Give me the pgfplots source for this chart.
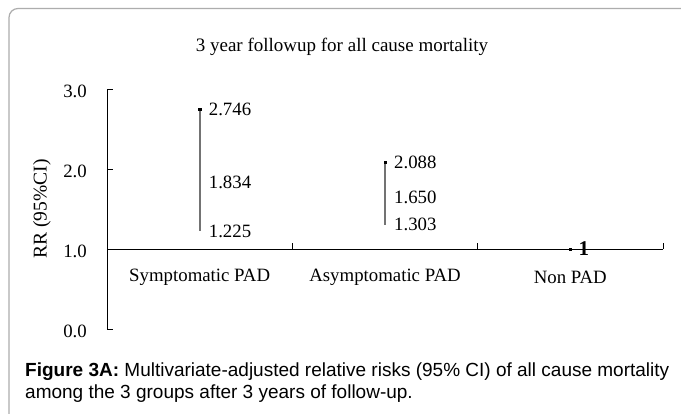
\documentclass[border=0pt]{standalone}
\usepackage{fontspec}
\setmainfont{Liberation Serif}
\newfontfamily\capfont{Liberation Sans}
\usepackage{pgfplots}
\pgfplotsset{compat=1.18}
\begin{document}
\begin{tikzpicture}[x=1pt,y=1pt]
\useasboundingbox (0,0) rectangle (681,414);
\clip (0,0) rectangle (681,414);
\fill[white] (0,0) rectangle (681,414);
\draw[black!32, line width=1.2pt, rounded corners=9pt] (9,405.5) rectangle (730,-40);
\begin{axis}[
  at={(107pt,85pt)}, anchor=south west,
  scale only axis, width=556pt, height=240pt,
  xmin=0, xmax=3, ymin=0, ymax=3,
  axis y line*=left, axis x line=none,
  ytick={0,1,2,3},
  yticklabel style={/pgf/number format/fixed, /pgf/number format/fixed zerofill, /pgf/number format/precision=1, anchor=east, inner sep=0pt, xshift=-20pt, yshift=-2pt, font=\fontsize{18.8}{22}\selectfont},
  /pgf/number format/assume math mode=true,
  tick align=inside, major tick length=6pt,
  tick style={black, line width=0.8pt},
  axis line style={black, line width=0.8pt},
  ylabel={RR (95\%CI)},
  ylabel style={at={(axis description cs:-0.117,0.5)}, anchor=center, font=\fontsize{19.5}{22}\selectfont},
  title={3 year followup for all cause mortality},
  title style={at={(axis description cs:0.4227,1.15)}, anchor=center, font=\fontsize{19}{22}\selectfont},
  clip=false,
]
% x axis line at RR = 1
\draw[black, line width=0.8pt] (axis cs:0,1) -- (axis cs:3,1);
\draw[black, line width=0.8pt] (axis cs:1,1) -- ++(0,6pt);
\draw[black, line width=0.8pt] (axis cs:2,1) -- ++(0,6pt);
\draw[black, line width=0.8pt] (axis cs:3,1) -- ++(0,6pt);
% high-low lines
\addplot[black!55, line width=1.7pt, mark=none] coordinates {(0.5,1.225) (0.5,2.746)};
\addplot[black!55, line width=1.7pt, mark=none] coordinates {(1.5,1.303) (1.5,2.088)};
% high markers
\addplot[only marks, mark=square*, mark size=1.2pt, black] coordinates {(0.5,2.746) (1.5,2.088) (2.5,1)};
% value labels
\addplot[draw=none, mark=none, nodes near coords, point meta=explicit symbolic,
  every node near coord/.append style={anchor=west, xshift=9pt, inner sep=0pt, font=\fontsize{18.8}{22}\selectfont}]
  table[meta=label] {
x y label
0.5 2.746 2.746
0.5 1.834 1.834
0.5 1.225 1.225
1.5 2.088 2.088
1.5 1.650 1.650
1.5 1.303 1.303
};
\addplot[draw=none, mark=none, nodes near coords, point meta=explicit symbolic,
  every node near coord/.append style={anchor=west, xshift=8pt, inner sep=0pt, font=\fontsize{21}{24}\selectfont\bfseries}]
  table[meta=label] {
x y label
2.5 1 1
};
% category labels
\node[font=\fontsize{18.8}{22}\selectfont] at (axis cs:0.5,0.65) {Symptomatic PAD};
\node[font=\fontsize{18.8}{22}\selectfont] at (axis cs:1.5,0.65) {Asymptomatic PAD};
\node[font=\fontsize{18.8}{22}\selectfont] at (axis cs:2.5,0.65) {Non PAD};
\end{axis}
\node[anchor=base west, inner sep=0pt, font=\capfont\fontsize{19}{22}\selectfont] at (25,37.5) {\textbf{Figure 3A:} Multivariate-adjusted relative risks (95\% CI) of all cause mortality};
\node[anchor=base west, inner sep=0pt, font=\capfont\fontsize{19}{22}\selectfont] at (25,15) {among the 3 groups after 3 years of follow-up.};
\end{tikzpicture}
\end{document}
